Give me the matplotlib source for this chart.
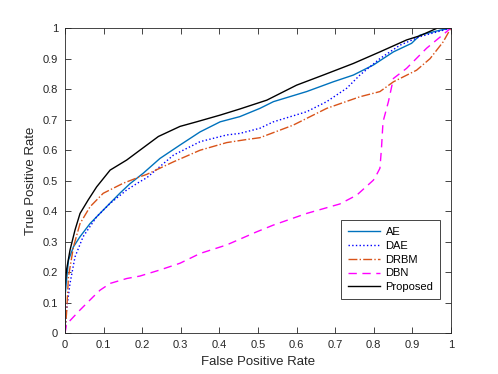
import matplotlib
matplotlib.use('Agg')
import matplotlib.pyplot as plt
import numpy as np

plt.rcParams['font.family'] = ['Liberation Sans', 'DejaVu Sans']

# ROC curves
ae_fpr = [0, 0, 0.009, 0.022, 0.039, 0.065, 0.099, 0.142, 0.168, 0.203, 0.246, 0.298, 0.35, 0.402,
          0.453, 0.505, 0.54, 0.626, 0.695, 0.747, 0.799, 0.851, 0.898, 0.92, 0.972, 1]
ae_tpr = [0, 0.12, 0.24, 0.284, 0.317, 0.36, 0.404, 0.459, 0.49, 0.525, 0.573, 0.617, 0.66, 0.693,
          0.71, 0.737, 0.759, 0.792, 0.824, 0.846, 0.879, 0.922, 0.95, 0.977, 0.993, 1]

dae_fpr = [0, 0.004, 0.013, 0.026, 0.047, 0.082, 0.117, 0.16, 0.194, 0.212, 0.281, 0.35, 0.419,
           0.453, 0.505, 0.54, 0.626, 0.678, 0.73, 0.764, 0.816, 0.868, 0.92, 1]
dae_tpr = [0, 0.077, 0.164, 0.251, 0.317, 0.382, 0.426, 0.47, 0.497, 0.51, 0.584, 0.628, 0.65,
           0.655, 0.672, 0.693, 0.726, 0.759, 0.803, 0.846, 0.9, 0.944, 0.972, 1]

drbm_fpr = [0, 0.004, 0.009, 0.022, 0.039, 0.065, 0.099, 0.151, 0.194, 0.212, 0.281, 0.35, 0.419, 0.47,
            0.505, 0.591, 0.678, 0.764, 0.816, 0.851, 0.911, 0.946, 0.98, 1]
drbm_tpr = [0, 0.066, 0.186, 0.284, 0.36, 0.415, 0.459, 0.492, 0.513, 0.521, 0.562, 0.6, 0.625, 0.635,
            0.641, 0.682, 0.737, 0.775, 0.792, 0.824, 0.862, 0.9, 0.955, 1]

dbn_fpr = [0, 0.004, 0.039, 0.073, 0.091, 0.117, 0.16, 0.194, 0.246, 0.298, 0.35, 0.419, 0.497, 0.54,
           0.626, 0.712, 0.756, 0.799, 0.807, 0.816, 0.82, 0.824, 0.838, 0.851, 0.885, 0.937, 1]
dbn_tpr = [0, 0.03, 0.077, 0.12, 0.142, 0.164, 0.18, 0.188, 0.208, 0.23, 0.262, 0.29, 0.333, 0.355,
           0.393, 0.424, 0.453, 0.502, 0.519, 0.541, 0.606, 0.693, 0.759, 0.835, 0.868, 0.934, 1]

prop_fpr = [0, 0, 0.004, 0.013, 0.026, 0.039, 0.06, 0.082, 0.117, 0.16, 0.194, 0.242,
            0.298, 0.341, 0.402, 0.453, 0.523, 0.6, 0.669, 0.747, 0.816, 0.885, 0.92, 0.965, 1]
prop_tpr = [0, 0.153, 0.208, 0.273, 0.339, 0.393, 0.437, 0.48, 0.535, 0.568, 0.6, 0.645,
            0.678, 0.693, 0.715, 0.735, 0.764, 0.813, 0.846, 0.884, 0.922, 0.961, 0.975, 1.0, 1]

fig = plt.figure(figsize=(4.98, 3.74), dpi=100)
ax = fig.add_axes([0.1305, 0.1083, 0.775, 0.8167])

ax.plot(ae_fpr, ae_tpr, color='#0072BD', linestyle='-', linewidth=1, label='AE')
ax.plot(dae_fpr, dae_tpr, color='#0000FF', linestyle=':', linewidth=1, label='DAE')
ax.plot(drbm_fpr, drbm_tpr, color='#D95319', linestyle='-.', linewidth=1, label='DRBM')
ax.plot(dbn_fpr, dbn_tpr, color='#FF00FF', linestyle=(0, (6, 4)), linewidth=1, label='DBN')
ax.plot(prop_fpr, prop_tpr, color='black', linestyle='-', linewidth=1, label='Proposed')

ax.set_xlim(0, 1)
ax.set_ylim(0, 1)
ticks = np.arange(0, 1.01, 0.1)
ax.set_xticks(ticks)
ax.set_yticks(ticks)
ax.set_xticklabels(['0', '0.1', '0.2', '0.3', '0.4', '0.5', '0.6', '0.7', '0.8', '0.9', '1'])
ax.set_yticklabels(['0', '0.1', '0.2', '0.3', '0.4', '0.5', '0.6', '0.7', '0.8', '0.9', '1'])
ax.tick_params(direction='in', top=True, right=True, length=4, width=0.6,
               labelsize=8, colors='#262626', pad=5)
for s in ax.spines.values():
    s.set_color('#262626')
    s.set_linewidth(0.6)

ax.set_xlabel('False Positive Rate', fontsize=9.5, color='#262626', labelpad=4)
ax.set_ylabel('True Positive Rate', fontsize=9.5, color='#262626', labelpad=4)

leg = ax.legend(loc='lower right', bbox_to_anchor=(0.972, 0.113), fontsize=8,
                fancybox=False, framealpha=1, edgecolor='#262626', handlelength=2.9,
                borderaxespad=0, borderpad=0.6, labelspacing=0.35, handletextpad=0.5)
leg.get_frame().set_linewidth(0.6)

fig.savefig('out.png', dpi=100)
